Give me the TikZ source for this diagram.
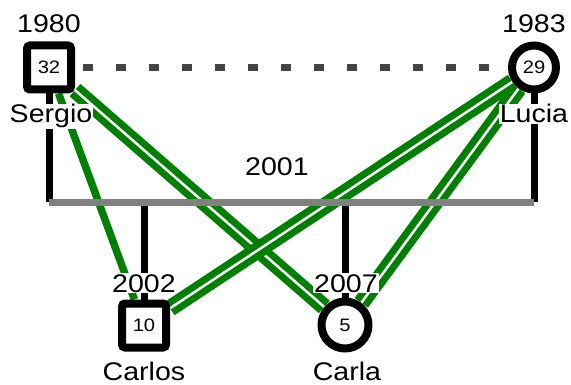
\documentclass[tikz,border=0pt]{standalone}
\usepackage{fontspec}
\newfontfamily\diagfont[FakeStretch=1.12]{Liberation Sans}
\usetikzlibrary{positioning, backgrounds}
\definecolor{kin}{RGB}{0,128,0}
\definecolor{wedline}{RGB}{128,128,128}
\definecolor{partnerline}{RGB}{68,68,68}

\tikzset{
    male/.style={draw, line width=8pt, fill=white, rectangle, rounded corners=3pt, minimum size=44pt, inner sep=0pt, font=\diagfont\fontsize{18}{20}\selectfont},
    female/.style={draw, line width=8pt, fill=white, circle, minimum size=44pt, inner sep=0pt, font=\diagfont\fontsize{18}{20}\selectfont},
    year/.style={font=\diagfont\fontsize{25.5}{28}\selectfont, inner sep=1pt, fill=white, anchor=base},
    bond/.style={draw=kin, line width=7pt, double=white, double distance=2.5pt},
    lone/.style={draw=kin, line width=7.5pt},
    descent/.style={draw=black, line width=7pt},
    union/.style={draw=wedline, line width=7pt},
    partner/.style={draw=partnerline, line width=7pt, dash pattern=on 10pt off 23pt, dash phase=25pt}
}

\begin{document}
\begin{tikzpicture}[x=1pt, y=-1pt]
    \useasboundingbox (0,0) rectangle (571,385);

    \node (sergio) [male] at (49, 67.5) {32};
    \node (lucia) [female] at (534, 67.5) {29};
    \node (carlos) [male] at (144, 325.5) {10};
    \node (carla) [female, minimum size=47pt] at (345, 325) {5};

    \node (yS) [year] at (49, 33) {1980};
    \node (yL) [year] at (534, 33) {1983};
    \node (nS) [year] at (51, 123) {Sergio};
    \node (nL) [year] at (534, 123) {Lucia};
    \node (yW) [year] at (277, 176) {2001};
    \node (yC) [year] at (144, 292) {2002};
    \node (yA) [year] at (346, 292) {2007};
    \node (nC) [year] at (144, 380) {Carlos};
    \node (nA) [year] at (347, 380) {Carla};

    \coordinate (mL) at (49, 202.5);
    \coordinate (mR) at (534, 202.5);
    \coordinate (cC) at (144, 202.5);
    \coordinate (cA) at (345, 202.5);

    \begin{pgfonlayer}{background}
        \draw [lone] (sergio) -- (carlos);
        \draw [bond] (sergio) -- (carla);
        \draw [bond] (lucia) -- (carla);
        \draw [bond] (lucia) -- (carlos);

        \draw [descent] (sergio) -- (mL);
        \draw [descent] (lucia) -- (mR);
        \draw [descent] (cC) -- (carlos);
        \draw [descent] (cA) -- (carla);
        \draw [union] (mL) -- (mR);
    \end{pgfonlayer}

    \draw [partner] (sergio.east) -- (lucia.west);
\end{tikzpicture}
\end{document}
